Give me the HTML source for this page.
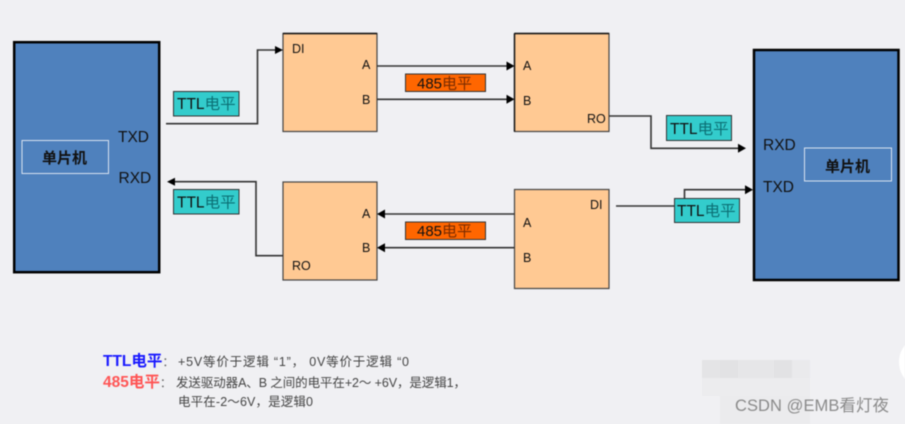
<!DOCTYPE html>
<html><head><meta charset="utf-8"><style>
html,body{margin:0;padding:0;background:#f0f0f3;overflow:hidden}
svg{display:block;filter:blur(.45px)}
text{font-family:"Liberation Sans","Noto Sans CJK SC",sans-serif;fill:#111}
</style></head><body>
<svg width="905" height="424" viewBox="0 0 905 424" xmlns="http://www.w3.org/2000/svg">
<rect width="905" height="424" fill="#f0f0f3"/>
<!-- blur blocks -->
<g>
<rect x="702" y="360" width="18" height="18" fill="#e4e4e6"/><rect x="720" y="360" width="18" height="18" fill="#e2e2e4"/><rect x="738" y="360" width="18" height="18" fill="#e6e6e8"/><rect x="756" y="360" width="18" height="18" fill="#e6e6e8"/><rect x="774" y="360" width="18" height="18" fill="#e2e2e4"/><rect x="792" y="360" width="18" height="18" fill="#eaeaec"/>
<rect x="702" y="378" width="108" height="18" fill="#ececee"/>
<rect x="720" y="396" width="90" height="28" fill="#ebebed"/>
</g>
<circle cx="926" cy="362" r="27" fill="#fff"/>
<!-- MCUs -->
<rect x="14.2" y="42.2" width="145" height="230" fill="#4f81bd" stroke="#000" stroke-width="2.5"/>
<rect x="22" y="140.5" width="86.5" height="33" fill="none" stroke="#d8e2f0" stroke-width="1"/>
<rect x="754" y="50" width="144.5" height="230" fill="#4f81bd" stroke="#000" stroke-width="2.5"/>
<rect x="804.5" y="148" width="87" height="33" fill="none" stroke="#d8e2f0" stroke-width="1"/>
<!-- transceivers -->
<g fill="#ffc993" stroke="#444" stroke-width="1.2">
<rect x="283" y="33.5" width="94" height="98"/>
<rect x="514.5" y="33.5" width="94.5" height="98"/>
<rect x="283" y="182" width="94" height="98"/>
<rect x="514.5" y="189.5" width="94.5" height="99"/>
</g>
<path d="M283 33.5H377M514.5 33.5H609M514.5 33.5V131.5" stroke="#111" stroke-width="1.4" fill="none"/>
<!-- connectors -->
<g fill="none" stroke="#333" stroke-width="1.6">
<path d="M166 123.7H257.5V50H276"/>
<path d="M174 181.7H256V255.7H283"/>
<path d="M377 66H507M377 99.3H507"/>
<path d="M384 214H514.5M384 247.7H514.5"/>
<path d="M609 116H651V148.3H739"/>
<path d="M616 206H674M684.5 198V189.7H746"/>
</g>
<g fill="#000">
<path d="M283 50l-8-4v8z"/>
<path d="M167 181.7l8-4v8z"/>
<path d="M514.5 66l-8-4.500v9z"/>
<path d="M514.5 99.300l-8-4.500v9z"/>
<path d="M377 214l8-4.500v9z"/>
<path d="M377 247.700l8-4.500v9z"/>
<path d="M746 148.300l-8-4.500v9z"/>
<path d="M753 189.700l-8-4.500v9z"/>
</g>
<!-- level labels -->
<g fill="#33cccc" stroke="#333" stroke-width="1">
<rect x="173.500" y="91.500" width="65.500" height="24.500"/>
<rect x="173.500" y="189.500" width="65.500" height="24.500"/>
<rect x="666.500" y="115.500" width="65" height="25"/>
<rect x="674.500" y="198.500" width="65" height="24"/>
</g>
<g fill="#ff6600" stroke="#333" stroke-width="1">
<rect x="405.500" y="74" width="80" height="17.500"/>
<rect x="405.500" y="222" width="80" height="17.500"/>
</g>
<g font-size="15.500">
<text x="177" y="109">TTL<tspan fill="#0b6f74">电平</tspan></text>
<text x="177" y="207.500">TTL<tspan fill="#0b6f74">电平</tspan></text>
<text x="670" y="134">TTL<tspan fill="#0b6f74">电平</tspan></text>
<text x="677" y="216">TTL<tspan fill="#0b6f74">电平</tspan></text>
</g>
<g font-size="15">
<text x="417" y="88.500">485<tspan fill="#7a2c00">电平</tspan></text>
<text x="417" y="236">485<tspan fill="#7a2c00">电平</tspan></text>
</g>
<g font-size="15.500" fill="#0a1a30">
<text x="118" y="142">TXD</text>
<text x="118.500" y="183">RXD</text>
<text x="763" y="150">RXD</text>
<text x="763" y="192">TXD</text>
</g>
<g font-size="15" font-weight="bold">
<text x="42" y="163">单片机</text>
<text x="825" y="171.500">单片机</text>
</g>
<g font-size="12.500" fill="#222">
<text x="292" y="53">DI</text>
<text x="362" y="69">A</text>
<text x="362" y="104">B</text>
<text x="523" y="70">A</text>
<text x="523" y="105">B</text>
<text x="587" y="123">RO</text>
<text x="362" y="218">A</text>
<text x="362" y="252">B</text>
<text x="292" y="270">RO</text>
<text x="590" y="209">DI</text>
<text x="523" y="227">A</text>
<text x="523" y="262">B</text>
</g>
<!-- legend -->
<text x="103" y="366" font-size="15.500" font-weight="bold" style="fill:#1a1aff">TTL电平<tspan style="fill:#666" font-weight="normal" font-size="12">：</tspan></text>
<text x="103" y="387" font-size="15.500" font-weight="bold" style="fill:#ff5555">485电平<tspan style="fill:#666" font-weight="normal" font-size="12">：</tspan></text>
<g font-size="12.500" style="fill:#444">
<text x="178" y="366" textLength="231" lengthAdjust="spacing" style="fill:#444">+5V等价于逻辑 “1”， 0V等价于逻辑 “0</text>
<text x="176" y="387" textLength="290" lengthAdjust="spacing" style="fill:#444">发送驱动器A、B 之间的电平在+2～ +6V，是逻辑1，</text>
<text x="178" y="406" textLength="135" lengthAdjust="spacing" style="fill:#444">电平在-2～6V，是逻辑0</text>
</g>
<text x="735" y="411" font-size="16.500" textLength="154" lengthAdjust="spacing" style="fill:#8a8a8a">CSDN @EMB看灯夜</text>
</svg>
</body></html>
